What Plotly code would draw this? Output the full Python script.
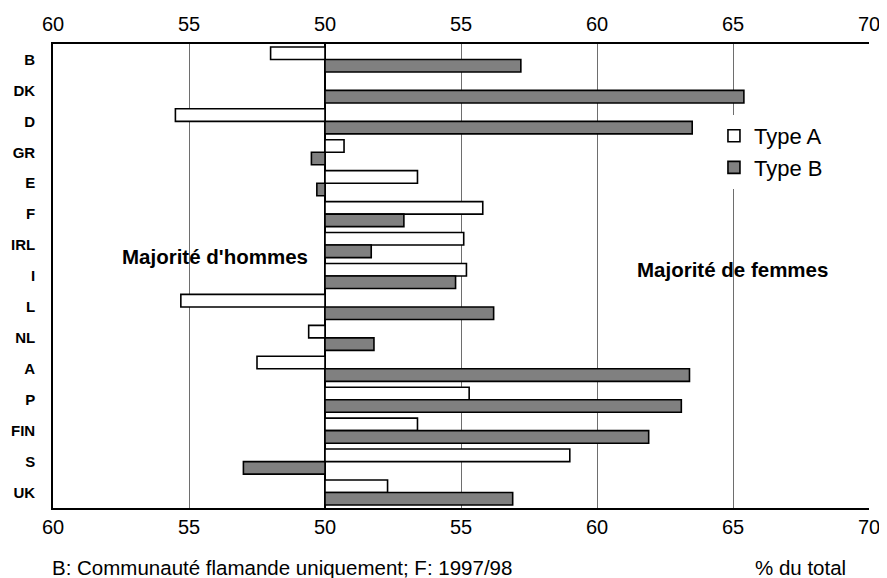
import plotly.graph_objects as go

countries = ["B", "DK", "D", "GR", "E", "F", "IRL", "I", "L", "NL", "A", "P", "FIN", "S", "UK"]
# share of women (% of total); values below 50 mean a majority of men
type_a = [48.0, None, 44.5, 50.7, 53.4, 55.8, 55.1, 55.2, 44.7, 49.4, 47.5, 55.3, 53.4, 59.0, 52.3]
type_b = [57.2, 65.4, 63.5, 49.5, 49.7, 52.9, 51.7, 54.8, 56.2, 51.8, 63.4, 63.1, 61.9, 47.0, 56.9]

tick_vals = [40, 45, 50, 55, 60, 65, 70]
tick_text = ["60", "55", "50", "55", "60", "65", "70"]

CENTER = 50
FONT = "Liberation Sans, Arial, sans-serif"

def offset(vals):
    return [None if v is None else v - CENTER for v in vals]

fig = go.Figure()
fig.add_trace(go.Bar(
    y=countries, x=offset(type_a), orientation="h", name="Type A",
    marker=dict(color="white", line=dict(color="black", width=1.6)),
))
fig.add_trace(go.Bar(
    y=countries, x=offset(type_b), orientation="h", name="Type B",
    marker=dict(color="#808080", line=dict(color="black", width=1.6)),
))
# invisible helper trace so that the top (mirrored) tick axis is drawn
fig.add_trace(go.Scatter(
    y=countries, x=offset(type_b), xaxis="x2", mode="markers",
    marker=dict(opacity=0), showlegend=False, hoverinfo="skip",
))

rel_vals = [v - CENTER for v in tick_vals]
xrange = [tick_vals[0] - CENTER, tick_vals[-1] - CENTER]

# page body adds an 8px margin, so the figure is 8px smaller each way
fig.update_layout(
    width=879, height=570,
    margin=dict(l=45, r=18, t=36, b=70, autoexpand=False),
    paper_bgcolor="white", plot_bgcolor="white",
    barmode="group", bargap=0.19, bargroupgap=0,
    font=dict(family=FONT, color="black"),
    xaxis=dict(
        range=xrange, tickvals=rel_vals, ticktext=tick_text, automargin=False,
        tickfont=dict(size=20), showgrid=True, gridcolor="#6e6e6e", gridwidth=1,
        zeroline=True, zerolinecolor="black", zerolinewidth=1.6,
        showline=True, linecolor="black", linewidth=1.6, mirror=True,
        ticks="",
    ),
    xaxis2=dict(
        overlaying="x", side="top", range=xrange, automargin=False,
        tickvals=rel_vals, ticktext=tick_text, tickfont=dict(size=20),
        showgrid=False, zeroline=False, showline=False,
        ticks="outside", ticklen=4, tickcolor="rgba(0,0,0,0)",
    ),
    yaxis=dict(
        range=[len(countries) - 0.5, -0.5],
        tickfont=dict(size=15, family=FONT, weight="bold"),
        showline=True, linecolor="black", linewidth=1.6, mirror=False,
        showgrid=False, ticklabelstandoff=13, automargin=False,
    ),
    legend=dict(
        x=0.810, y=0.847, xanchor="left", yanchor="top",
        bgcolor="white", font=dict(size=22), traceorder="normal",
        itemwidth=30,
    ),
    showlegend=True,
)

fig.add_annotation(xref="x", yref="paper", x=-0.55, y=0.543, text="<b>Majorité d'hommes</b>",
                   showarrow=False, xanchor="right", yanchor="middle", font=dict(size=20.5))
fig.add_annotation(xref="x", yref="paper", x=11.4, y=0.515, text="<b>Majorité de femmes</b>",
                   showarrow=False, xanchor="left", yanchor="middle", font=dict(size=20.5))
fig.add_annotation(xref="paper", yref="paper", x=-0.004, y=-0.129,
                   text="B: Communauté flamande uniquement; F: 1997/98",
                   showarrow=False, xanchor="left", yanchor="middle", font=dict(size=20.5))
fig.add_annotation(xref="paper", yref="paper", x=0.974, y=-0.129, text="% du total",
                   showarrow=False, xanchor="right", yanchor="middle", font=dict(size=20.5))

fig.write_html("out.html")
